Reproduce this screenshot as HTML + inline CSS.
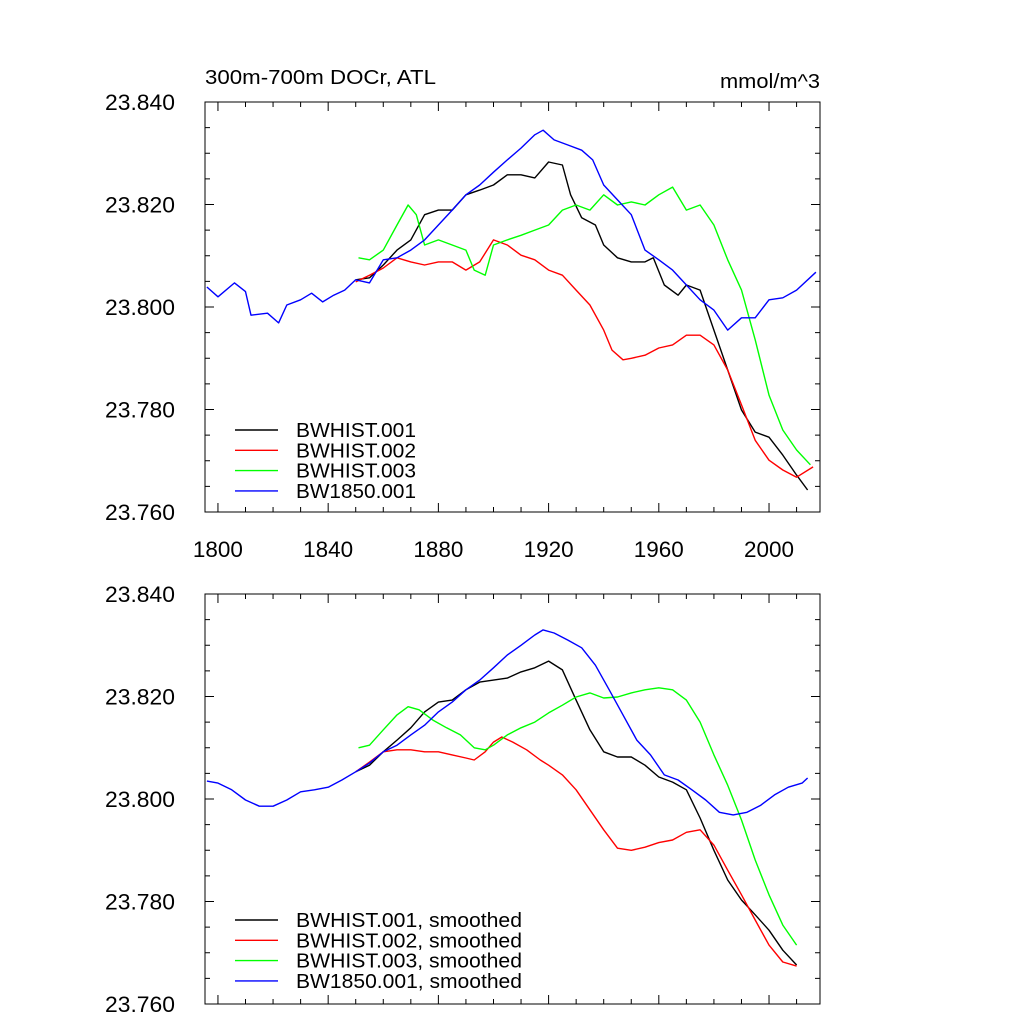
<!DOCTYPE html>
<html><head><meta charset="utf-8"><style>
html,body{margin:0;padding:0;background:#fff;}
svg{display:block;font-family:"Liberation Sans",sans-serif;}
</style></head><body>
<svg id="c" width="1024" height="1024" viewBox="0 0 1024 1024"></svg>
<script>
const years1850=[1796,1800,1806,1810,1812,1818,1822,1825,1830,1834,1838,1842,1846,1850,1855,1860,1865,1870,1875,1880,1885,1890,1895,1900,1905,1910,1915,1918,1922,1927,1932,1936,1940,1945,1950,1955,1960,1965,1970,1975,1980,1985,1990,1995,2000,2005,2010,2017];
const raw1850=[23.8039,23.8020,23.8047,23.8030,23.7984,23.7988,23.7969,23.8004,23.8014,23.8027,23.8010,23.8023,23.8033,23.8053,23.8047,23.8092,23.8096,23.8111,23.8131,23.8160,23.8189,23.8219,23.8238,23.8263,23.8287,23.8310,23.8336,23.8345,23.8326,23.8316,23.8306,23.8287,23.8238,23.8209,23.8180,23.8111,23.8092,23.8072,23.8043,23.8014,23.7994,23.7955,23.7979,23.7979,23.8014,23.8018,23.8033,23.8068];
const yearsH1=[1850,1855,1860,1865,1870,1875,1880,1885,1890,1895,1900,1905,1910,1915,1920,1925,1928,1932,1937,1940,1945,1950,1955,1958,1962,1967,1970,1975,1980,1985,1990,1995,2000,2005,2010,2014];
const rawH1=[23.8053,23.8057,23.8082,23.8111,23.8131,23.8180,23.8189,23.8189,23.8219,23.8228,23.8238,23.8258,23.8258,23.8252,23.8283,23.8277,23.8219,23.8174,23.8160,23.8121,23.8096,23.8088,23.8088,23.8096,23.8043,23.8023,23.8043,23.8033,23.7955,23.7877,23.7799,23.7756,23.7746,23.7711,23.7672,23.7643];
const yearsH2=[1850,1855,1860,1865,1870,1875,1880,1885,1890,1895,1900,1905,1910,1915,1920,1925,1930,1935,1940,1943,1947,1950,1955,1960,1965,1970,1975,1980,1985,1990,1995,2000,2005,2010,2016];
const rawH2=[23.8049,23.8062,23.8076,23.8096,23.8088,23.8082,23.8088,23.8088,23.8072,23.8088,23.8131,23.8121,23.8101,23.8092,23.8072,23.8062,23.8033,23.8004,23.7955,23.7916,23.7897,23.7900,23.7906,23.7920,23.7926,23.7945,23.7945,23.7926,23.7877,23.7809,23.7740,23.7701,23.7682,23.7668,23.7688];
const yearsH3=[1851,1855,1860,1865,1869,1872,1875,1880,1885,1890,1893,1897,1900,1905,1910,1915,1920,1925,1930,1935,1940,1945,1950,1955,1960,1965,1970,1975,1980,1985,1990,1995,2000,2005,2010,2015];
const rawH3=[23.8096,23.8092,23.8111,23.8160,23.8199,23.8180,23.8121,23.8131,23.8121,23.8111,23.8072,23.8062,23.8121,23.8131,23.8140,23.8150,23.8160,23.8189,23.8199,23.8189,23.8219,23.8199,23.8205,23.8199,23.8219,23.8234,23.8189,23.8199,23.8160,23.8092,23.8033,23.7936,23.7828,23.7760,23.7721,23.7692];
const sYears1850=[1796,1800,1805,1810,1815,1820,1825,1830,1835,1840,1845,1850,1855,1860,1865,1870,1875,1880,1885,1890,1895,1900,1905,1910,1915,1918,1922,1927,1932,1937,1942,1947,1952,1957,1962,1967,1972,1977,1982,1987,1992,1997,2002,2007,2012,2014];
const smooth1850=[23.8035,23.8031,23.8018,23.7998,23.7986,23.7986,23.7998,23.8014,23.8018,23.8023,23.8037,23.8053,23.8070,23.8092,23.8105,23.8125,23.8144,23.8170,23.8189,23.8213,23.8232,23.8256,23.8281,23.8300,23.8320,23.8330,23.8324,23.8310,23.8295,23.8261,23.8213,23.8164,23.8115,23.8086,23.8047,23.8037,23.8018,23.7998,23.7974,23.7969,23.7974,23.7988,23.8008,23.8023,23.8031,23.8041];
const sYearsH1=[1850,1855,1860,1865,1870,1875,1880,1885,1890,1895,1900,1905,1910,1915,1920,1925,1930,1935,1940,1945,1950,1955,1960,1965,1970,1975,1980,1985,1990,1995,2000,2005,2010];
const smoothH1=[23.8053,23.8066,23.8092,23.8115,23.8139,23.8170,23.8189,23.8193,23.8213,23.8228,23.8232,23.8236,23.8248,23.8256,23.8269,23.8252,23.8193,23.8135,23.8092,23.8082,23.8082,23.8066,23.8043,23.8033,23.8018,23.7963,23.7900,23.7842,23.7803,23.7774,23.7744,23.7705,23.7676];
const sYearsH2=[1850,1855,1860,1865,1870,1875,1880,1885,1890,1893,1897,1900,1903,1907,1912,1917,1920,1925,1930,1935,1940,1945,1950,1955,1960,1965,1970,1975,1980,1985,1990,1995,2000,2005,2010];
const smoothH2=[23.8053,23.8072,23.8092,23.8096,23.8096,23.8092,23.8092,23.8086,23.8080,23.8076,23.8092,23.8111,23.8121,23.8111,23.8096,23.8076,23.8066,23.8047,23.8018,23.7979,23.7940,23.7904,23.7900,23.7906,23.7915,23.7920,23.7935,23.7940,23.7910,23.7861,23.7813,23.7764,23.7715,23.7682,23.7674];
const sYearsH3=[1851,1855,1860,1865,1869,1873,1878,1883,1888,1893,1897,1900,1905,1910,1915,1920,1925,1930,1935,1940,1945,1950,1955,1960,1965,1970,1975,1980,1985,1990,1995,2000,2005,2010];
const smoothH3=[23.8100,23.8105,23.8135,23.8164,23.8180,23.8174,23.8154,23.8139,23.8125,23.8100,23.8096,23.8105,23.8125,23.8139,23.8150,23.8168,23.8183,23.8199,23.8207,23.8197,23.8199,23.8207,23.8213,23.8217,23.8213,23.8193,23.8150,23.8086,23.8027,23.7959,23.7881,23.7813,23.7754,23.7715];
const xTicks=[1800,1840,1880,1920,1960,2000];
const yTicks=[23.760,23.780,23.800,23.820,23.840];
const legendTop=["BWHIST.001","BWHIST.002","BWHIST.003","BW1850.001"];
const legendBot=["BWHIST.001, smoothed","BWHIST.002, smoothed","BWHIST.003, smoothed","BW1850.001, smoothed"];
const colors=["#000000","#ff0000","#00ff00","#0000ff"];

const NS="http://www.w3.org/2000/svg";
const svg=document.getElementById('c');
const L=205,R=820,X0=1795.3,X1=2018.5,Y0=23.760,Y1=23.840;
function mk(tag,attrs,parent){const e=document.createElementNS(NS,tag);for(const k in attrs)e.setAttribute(k,attrs[k]);(parent||svg).appendChild(e);return e;}
function xs(v){return L+(v-X0)/(X1-X0)*(R-L);}
function panel(top,bottom,series,labels,legY,legLen,name,showX){
  const g=mk('g',{});
  
  
  const ys=v=>bottom-(v-Y0)/(Y1-Y0)*(bottom-top);
  const fr=mk('rect',{x:L,y:top,width:R-L,height:bottom-top,fill:'none',stroke:'#000','stroke-width':1},g);
  
  
  for(let yr=1800;yr<=2010;yr+=10){
    const x=xs(yr),len=(yr%40===0)?9:5;
    mk('line',{x1:x,x2:x,y1:bottom,y2:bottom-len,stroke:'#000'},g);
    mk('line',{x1:x,x2:x,y1:top,y2:top+len,stroke:'#000'},g);
  }
  for(let i=0;i<=16;i++){
    const v=Y0+i*0.005,y=ys(v),len=(i%4===0)?9:5;
    mk('line',{x1:L,x2:L+len,y1:y,y2:y,stroke:'#000'},g);
    mk('line',{x1:R,x2:R-len,y1:y,y2:y,stroke:'#000'},g);
  }
  yTicks.forEach(v=>{
    const t=mk('text',{x:L-30,y:ys(v)+8,'text-anchor':'end','font-size':22,textLength:70,lengthAdjust:'spacingAndGlyphs'},g);
    t.textContent=v.toFixed(3);
    
    
  });
  if(showX) xTicks.forEach(v=>{
    const t=mk('text',{x:xs(v),y:bottom+45,'text-anchor':'middle','font-size':22,textLength:50,lengthAdjust:'spacingAndGlyphs'},g);
    t.textContent=v;
    
    
  });
  series.forEach((s,i)=>{
    const d=s[0].map((yr,j)=>(j?'L':'M')+xs(yr).toFixed(1)+','+ys(s[1][j]).toFixed(1)).join(' ');
    const p=mk('path',{d:d,fill:'none',stroke:colors[i],'stroke-width':1.4,'stroke-linejoin':'round'},g);
    
    
  });
  labels.forEach((lab,i)=>{
    const y=legY+i*20.3;
    const le=mk('g',{},g);
    
    
    mk('line',{x1:235,x2:278,y1:y,y2:y,stroke:colors[i],'stroke-width':1.4},le);
    const t=mk('text',{x:296,y:y+7,'font-size':20,textLength:legLen,lengthAdjust:'spacingAndGlyphs'},le);
    t.textContent=lab;
  });
  return ys;
}
panel(102,512,[[yearsH1,rawH1],[yearsH2,rawH2],[yearsH3,rawH3],[years1850,raw1850]],legendTop,430,120,'top-panel',true);
panel(594,1004,[[sYearsH1,smoothH1],[sYearsH2,smoothH2],[sYearsH3,smoothH3],[sYears1850,smooth1850]],legendBot,920,226,'bottom-panel',false);
const t1=mk('text',{x:205,y:84,'font-size':20,textLength:231,lengthAdjust:'spacingAndGlyphs'});
t1.textContent='300m-700m DOCr, ATL';


const t2=mk('text',{x:720,y:88,'font-size':20,textLength:100,lengthAdjust:'spacingAndGlyphs'});
t2.textContent='mmol/m^3';


</script>
</body></html>
